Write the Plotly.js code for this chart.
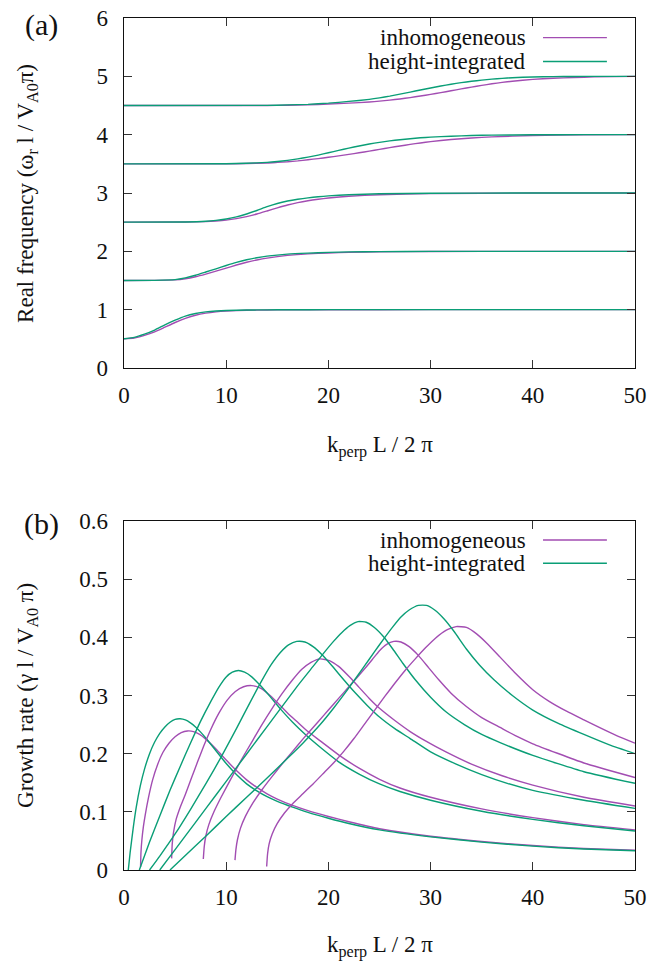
<!DOCTYPE html>
<html>
<head>
<meta charset="utf-8">
<script src="https://cdn.plot.ly/plotly-3.0.1.min.js"></script>
<style>html,body{margin:0;padding:0;background:#fff;}#chart{width:654px;height:972px;}</style>
</head>
<body>
<div id="chart"></div>
<script>
// ---------- Panel (a): real frequency ----------
const kFreq1 = [0,1,2,3,4,5,6,7,8,9,10,12,14,16,20,30,40,50];
const freqHint1 = [0.50,0.525,0.58,0.65,0.74,0.82,0.89,0.935,0.963,0.978,0.986,0.994,0.997,0.999,1.0,1.0,1.0,1.0];
const freqInhom1 = [0.50,0.515,0.56,0.62,0.70,0.78,0.85,0.905,0.94,0.963,0.976,0.989,0.994,0.997,0.999,1.0,1.0,1.0];

const kFreq2 = [0,3,5,6,7,8,9,10,11,12,13,14,16,18,20,22,25,30,40,50];
const freqHint2 = [1.50,1.503,1.515,1.545,1.59,1.645,1.70,1.757,1.81,1.855,1.89,1.917,1.952,1.97,1.982,1.99,1.995,1.999,2.0,2.0];
const freqInhom2 = [1.50,1.502,1.51,1.53,1.565,1.61,1.66,1.713,1.765,1.812,1.852,1.884,1.93,1.957,1.972,1.983,1.992,1.997,2.0,2.0];

const kFreq3 = [0,6,8,9,10,11,12,13,14,15,16,17,18,19,20,22,25,30,40,50];
const freqHint3 = [2.50,2.503,2.515,2.53,2.555,2.59,2.64,2.70,2.765,2.82,2.862,2.893,2.917,2.935,2.95,2.97,2.986,2.996,3.0,3.0];
const freqInhom3 = [2.50,2.502,2.51,2.52,2.535,2.56,2.595,2.64,2.692,2.745,2.795,2.836,2.868,2.893,2.914,2.945,2.971,2.99,2.999,3.0];

const kFreq4 = [0,10,12,14,15,16,17,18,19,20,21,22,23,24,25,26,27,28,29,30,32,34,36,40,45,50];
const freqHint4 = [3.50,3.502,3.51,3.525,3.54,3.56,3.585,3.615,3.65,3.69,3.73,3.77,3.806,3.84,3.868,3.893,3.913,3.931,3.946,3.958,3.974,3.985,3.992,3.998,4.0,4.0];
const freqInhom4 = [3.50,3.501,3.505,3.515,3.525,3.535,3.55,3.57,3.59,3.612,3.636,3.662,3.689,3.718,3.748,3.778,3.806,3.833,3.858,3.88,3.917,3.944,3.963,3.986,3.997,4.0];

const kFreq5 = [0,14,16,18,20,22,24,25,26,27,28,29,30,31,32,33,34,35,36,37,38,40,42,44,46,50];
const freqHint5 = [4.50,4.502,4.51,4.52,4.54,4.57,4.605,4.63,4.66,4.695,4.73,4.766,4.80,4.834,4.865,4.892,4.915,4.935,4.952,4.965,4.976,4.989,4.995,4.998,5.0,5.0];
const freqInhom5 = [4.50,4.501,4.505,4.512,4.525,4.54,4.56,4.575,4.592,4.612,4.636,4.662,4.69,4.72,4.752,4.784,4.815,4.845,4.872,4.896,4.917,4.948,4.967,4.98,4.99,5.0];

// ---------- Panel (b): growth rate ----------
const kGrowHint1 = [0.42,0.6,0.9,1.2,1.6,2.0,2.5,3.0,3.5,4.0,4.5,5.0,5.5,6.0,6.5,7.0,7.5,8.0,9,10,11,12,13,14,15,16.5,18,20,22,25,30,35,40,45,50];
const growHint1 = [0,0.03,0.072,0.108,0.145,0.173,0.2,0.22,0.235,0.246,0.254,0.259,0.26,0.258,0.253,0.246,0.237,0.227,0.205,0.183,0.164,0.148,0.136,0.126,0.118,0.108,0.099,0.089,0.08,0.069,0.057,0.048,0.041,0.036,0.033];
const kGrowInhom1 = [1.62,1.66,1.75,1.9,2.1,2.4,2.8,3.3,3.8,4.4,5.0,5.6,6.2,6.8,7.4,8.0,9,10,11,12,13,14,15,16.5,18,20,22,25,30,35,40,45,50];
const growInhom1 = [0.005,0.03,0.052,0.075,0.097,0.125,0.155,0.182,0.202,0.218,0.229,0.236,0.239,0.238,0.233,0.225,0.208,0.189,0.171,0.155,0.142,0.131,0.122,0.111,0.102,0.092,0.083,0.071,0.058,0.049,0.042,0.037,0.034];

const kGrowHint2 = [1.5,2.5,3.5,4.5,5.5,6.5,7.5,8.5,9.3,10,10.6,11.2,11.8,12.5,13.3,14.3,15.3,16.5,17.8,19.2,21,23,25,27,30,35,40,45,50];
const growHint2 = [0,0.048,0.093,0.137,0.178,0.218,0.256,0.29,0.315,0.332,0.34,0.343,0.34,0.332,0.318,0.298,0.277,0.254,0.232,0.211,0.186,0.165,0.148,0.135,0.12,0.101,0.087,0.076,0.067];
const kGrowInhom2 = [4.66,4.72,4.85,5.1,5.5,6.0,6.6,7.2,7.8,8.5,9.3,10.1,10.9,11.7,12.5,13.3,14.1,15,16,17,18,19.2,21,23,25,27,30,35,40,45,50];
const growInhom2 = [0.02,0.045,0.065,0.087,0.108,0.13,0.158,0.186,0.213,0.242,0.27,0.292,0.307,0.315,0.317,0.313,0.303,0.288,0.27,0.254,0.238,0.222,0.198,0.175,0.156,0.141,0.125,0.105,0.09,0.078,0.069];

const kGrowHint3 = [2.5,3.5,5,6.5,8,9.5,11,12.3,13.4,14.4,15.3,16.1,16.9,17.7,18.5,19.5,20.5,21.5,22.6,23.8,25,26.5,28,30,32.5,35,37.5,40,45,50];
const growHint3 = [0,0.024,0.062,0.104,0.148,0.194,0.243,0.287,0.323,0.353,0.374,0.387,0.393,0.392,0.384,0.368,0.348,0.327,0.305,0.283,0.263,0.243,0.226,0.203,0.182,0.164,0.149,0.137,0.12,0.106];
const kGrowInhom3 = [7.76,7.85,8.0,8.3,8.8,9.5,10.5,11.5,12.5,13.5,14.5,15.5,16.5,17.4,18.3,19.2,20.1,21,22,23,24,25,26.5,28,29.5,31.5,34,37,40,45,50];
const growInhom3 = [0.019,0.04,0.058,0.078,0.1,0.125,0.158,0.19,0.22,0.25,0.278,0.304,0.327,0.345,0.357,0.363,0.36,0.35,0.333,0.314,0.295,0.278,0.257,0.238,0.222,0.203,0.182,0.162,0.146,0.125,0.11];

const kGrowHint4 = [3.5,5,7,9,11,13,15,17,18.5,19.5,20.5,21.3,22.1,22.9,23.7,24.5,25.4,26.3,27.3,28.5,30,31.5,33.3,35,36.8,40,45,50];
const growHint4 = [0,0.035,0.082,0.129,0.176,0.223,0.27,0.317,0.35,0.372,0.393,0.408,0.42,0.427,0.426,0.417,0.401,0.38,0.355,0.327,0.297,0.272,0.25,0.233,0.219,0.197,0.169,0.149];
const kGrowInhom4 = [10.86,10.95,11.1,11.4,11.9,12.6,13.5,14.5,15.5,16.5,17.5,18.5,19.5,20.5,21.5,22.5,23.5,24.3,25,25.7,26.4,27.1,27.9,28.8,29.8,30.8,32,33.5,35,36.8,38.4,40,45,50];
const growInhom4 = [0.017,0.035,0.052,0.072,0.093,0.115,0.138,0.161,0.183,0.204,0.225,0.245,0.265,0.285,0.305,0.325,0.345,0.362,0.377,0.388,0.393,0.392,0.384,0.369,0.348,0.327,0.304,0.281,0.262,0.245,0.23,0.217,0.184,0.159];

const kGrowHint5 = [4.5,6,8,10,12,14,16,17.5,19.2,20.5,22,23.5,24.5,25.4,26.3,27.1,27.9,28.8,29.6,30.4,31.3,32.3,33.5,34.8,36.2,38,40,42.5,45,47.5,50];
const growHint5 = [0,0.025,0.058,0.092,0.125,0.158,0.192,0.218,0.25,0.278,0.313,0.35,0.375,0.397,0.418,0.435,0.447,0.455,0.455,0.447,0.432,0.41,0.38,0.352,0.327,0.3,0.275,0.252,0.233,0.215,0.2];
const kGrowInhom5 = [13.96,14.05,14.2,14.5,15,15.7,16.5,17.5,18.5,19.5,20.5,21.5,22.5,23.5,24.5,25.5,26.5,27.5,28.5,29.5,30.5,31.5,32.5,33.5,34.5,35.5,36.8,38.2,40,41.6,43.3,45,46.5,48.2,50];
const growInhom5 = [0.006,0.028,0.045,0.062,0.08,0.098,0.114,0.131,0.148,0.166,0.184,0.204,0.226,0.25,0.274,0.298,0.321,0.343,0.363,0.382,0.399,0.412,0.4185,0.417,0.406,0.39,0.366,0.34,0.31,0.29,0.273,0.258,0.245,0.231,0.218];

const seriesNames = ["inhomogeneous", "height-integrated"];
const colInhom = "#a24db2";
const colHint = "#0a9e76";
const FONT = "Liberation Serif, DejaVu Serif, serif";

const traces = [];
function add(x, y, isHint, xa, ya) {
  traces.push({
    x: x, y: y, type: "scatter", mode: "lines",
    xaxis: xa, yaxis: ya, showlegend: false, hoverinfo: "skip",
    name: isHint ? seriesNames[1] : seriesNames[0],
    line: { color: isHint ? colHint : colInhom, width: 1.4, shape: "spline", smoothing: 0.5 }
  });
}
const freqK = [kFreq1, kFreq2, kFreq3, kFreq4, kFreq5];
const freqI = [freqInhom1, freqInhom2, freqInhom3, freqInhom4, freqInhom5];
const freqH = [freqHint1, freqHint2, freqHint3, freqHint4, freqHint5];
for (let i = 0; i < 5; i++) { add(freqK[i], freqI[i], false, "x", "y"); add(freqK[i], freqH[i], true, "x", "y"); }
const gKI = [kGrowInhom1, kGrowInhom2, kGrowInhom3, kGrowInhom4, kGrowInhom5];
const gI = [growInhom1, growInhom2, growInhom3, growInhom4, growInhom5];
const gKH = [kGrowHint1, kGrowHint2, kGrowHint3, kGrowHint4, kGrowHint5];
const gH = [growHint1, growHint2, growHint3, growHint4, growHint5];
for (let i = 0; i < 5; i++) { add(gKI[i], gI[i], false, "x2", "y2"); add(gKH[i], gH[i], true, "x2", "y2"); }

const axBase = {
  showline: true, linecolor: "#111", linewidth: 1.3, mirror: "ticks",
  ticks: "inside", ticklen: 8, tickwidth: 1, tickcolor: "#333",
  showgrid: false, zeroline: false,
  tickfont: { family: FONT, size: 23, color: "#111" }
};
const topDom = [(870 - 368) / 852, 1];
const botDom = [0, (870 - 521) / 852];

// legend placement (paper coords)
const legTextX = 0.791, legX0 = 0.82, legX1 = 0.945;
const legRows = [[0.977, 0.949], [0.3873, 0.36]];

const annotations = [];
const shapes = [];
legRows.forEach(rows => {
  rows.forEach((py, j) => {
    annotations.push({ xref: "paper", yref: "paper", x: legTextX, y: py, xanchor: "right", yanchor: "middle",
      text: seriesNames[j], showarrow: false, font: { family: FONT, size: 23, color: "#111" } });
    shapes.push({ type: "line", xref: "paper", yref: "paper", x0: legX0, x1: legX1, y0: py, y1: py,
      line: { color: j === 0 ? colInhom : colHint, width: 1.4 } });
  });
});
const titleFont = { family: FONT, size: 23, color: "#111" };
annotations.push(
  { xref: "paper", yref: "paper", x: -0.162, y: 0.992, xanchor: "center", yanchor: "middle", text: "(a)", showarrow: false, font: { family: FONT, size: 30, color: "#111" } },
  { xref: "paper", yref: "paper", x: -0.162, y: 0.406, xanchor: "center", yanchor: "middle", text: "(b)", showarrow: false, font: { family: FONT, size: 30, color: "#111" } },
  { xref: "paper", yref: "paper", x: -0.19, y: 0.7946, xanchor: "center", yanchor: "middle", textangle: -90, text: "Real frequency (ω<sub>r</sub> l / V<sub>A0</sub>π)", showarrow: false, font: titleFont },
  { xref: "paper", yref: "paper", x: -0.19, y: 0.2054, xanchor: "center", yanchor: "middle", textangle: -90, text: "Growth rate (γ l / V<sub>A0</sub> π)", showarrow: false, font: titleFont },
  { xref: "paper", yref: "paper", x: 0.5, y: 0.4965, xanchor: "center", yanchor: "middle", text: "k<sub>perp</sub> L / 2 π", showarrow: false, font: titleFont },
  { xref: "paper", yref: "paper", x: 0.5, y: -0.09, xanchor: "center", yanchor: "middle", text: "k<sub>perp</sub> L / 2 π", showarrow: false, font: titleFont }
);

const layout = {
  width: 654, height: 972,
  margin: { l: 124, r: 19, t: 18, b: 102 },
  paper_bgcolor: "#fff", plot_bgcolor: "#fff",
  showlegend: false,
  font: { family: FONT },
  xaxis: Object.assign({}, axBase, { domain: [0, 1], range: [0, 50], dtick: 10, tick0: 0, anchor: "y", ticklabelstandoff: 6 }),
  yaxis: Object.assign({}, axBase, { domain: topDom, range: [0, 6], dtick: 1, tick0: 0, anchor: "x", ticklabelstandoff: 10 }),
  xaxis2: Object.assign({}, axBase, { domain: [0, 1], range: [0, 50], dtick: 10, tick0: 0, anchor: "y2", ticklabelstandoff: 6 }),
  yaxis2: Object.assign({}, axBase, { domain: botDom, range: [0, 0.6], dtick: 0.1, tick0: 0, anchor: "x2", ticklabelstandoff: 10 }),
  annotations: annotations,
  shapes: shapes
};
Plotly.newPlot("chart", traces, layout, { staticPlot: true, displayModeBar: false });
</script>
</body>
</html>
